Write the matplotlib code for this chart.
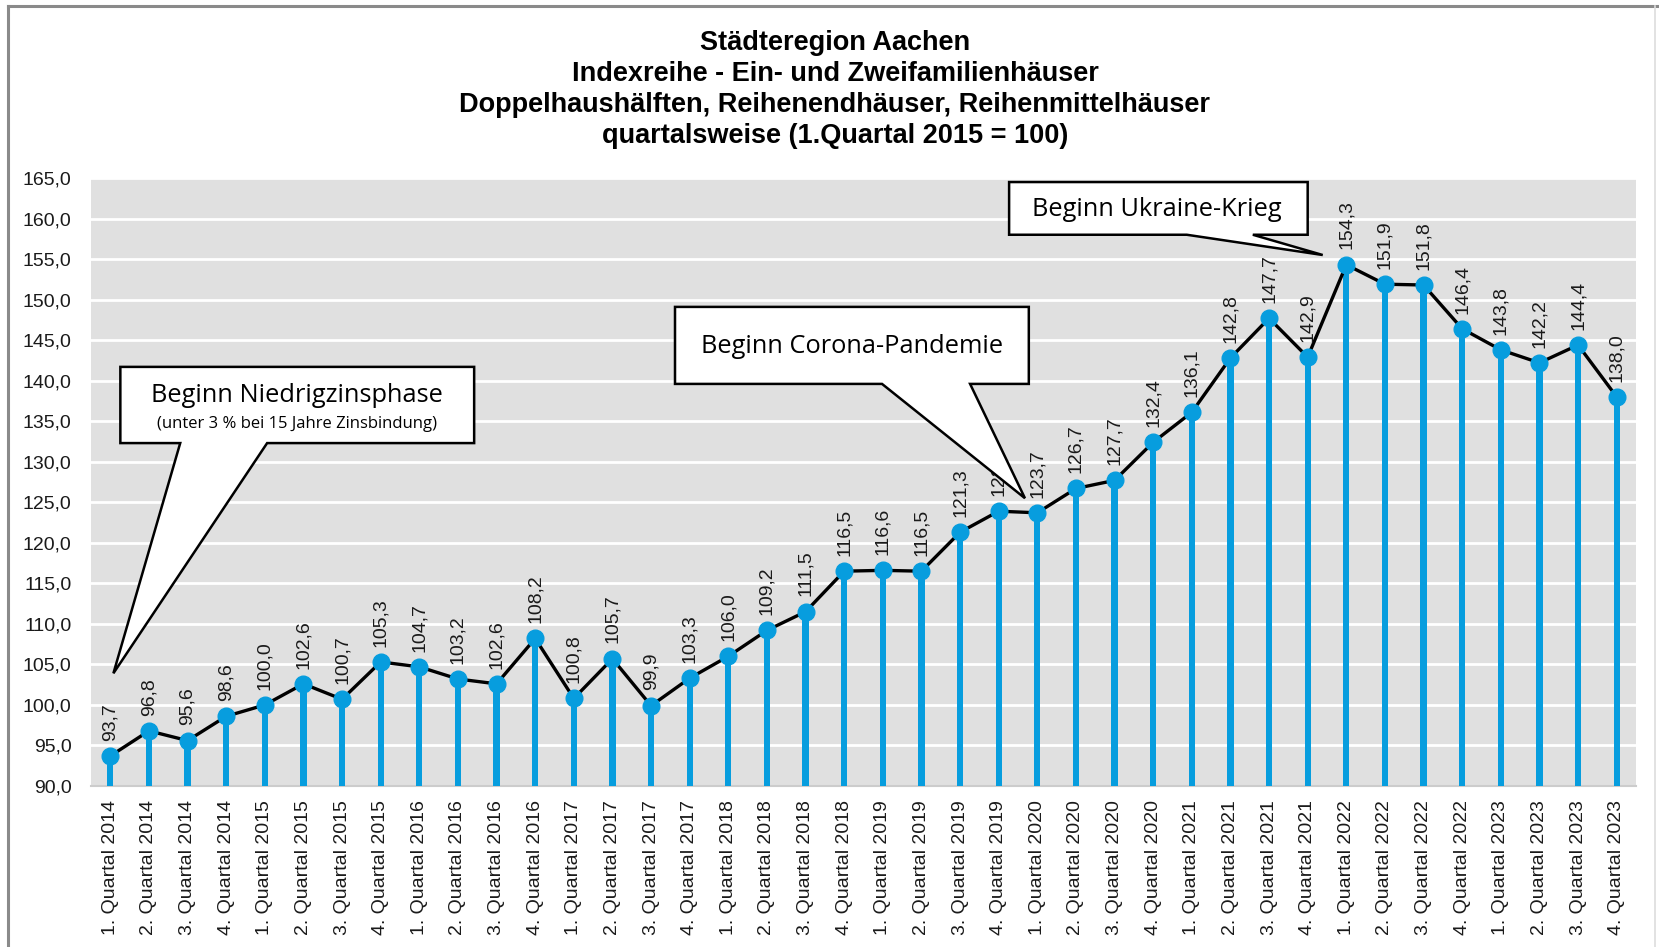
import numpy as np
import matplotlib
matplotlib.use("Agg")
import matplotlib.pyplot as plt
from matplotlib.patches import Polygon
from matplotlib.lines import Line2D

# data
years = [2014, 2015, 2016, 2017, 2018, 2019, 2020, 2021, 2022, 2023]
quarters = [1, 2, 3, 4]
labels = ["%d. Quartal %d" % (q, y) for y in years for q in quarters]
values = [93.7, 96.8, 95.6, 98.6, 100.0, 102.6, 100.7, 105.3,
          104.7, 103.2, 102.6, 108.2, 100.8, 105.7, 99.9, 103.3,
          106.0, 109.2, 111.5, 116.5, 116.6, 116.5, 121.3, 123.9,
          123.7, 126.7, 127.7, 132.4, 136.1, 142.8, 147.7, 142.9,
          154.3, 151.9, 151.8, 146.4, 143.8, 142.2, 144.4, 138.0]
yticks = np.arange(90, 166, 5)

title = ("Städteregion Aachen\n"
         "Indexreihe - Ein- und Zweifamilienhäuser\n"
         "Doppelhaushälften, Reihenendhäuser, Reihenmittelhäuser\n"
         "quartalsweise (1.Quartal 2015 = 100)")

BLUE = "#079dde"
SANS = ["Liberation Sans", "DejaVu Sans"]
CALLOUT_FONT = ["Open Sans", "DejaVu Sans"]

fig = plt.figure(figsize=(16.59, 9.47), dpi=100)
ax = fig.add_axes([0.05485, 0.17001, 0.93128, 0.64203])

x = np.arange(len(values))
ax.set_facecolor("#e0e0e0")
ax.bar(x, values, width=0.16, color=BLUE, zorder=3)
ax.plot(x, values, color="black", lw=2.4, zorder=4)
ax.plot(x, values, "o", color=BLUE, ms=12, zorder=5)

for xi, v in zip(x, values):
    ax.annotate(("%.1f" % v).replace(".", ","), (xi, v), xytext=(0, 11),
                textcoords="offset points", rotation=90, ha="center",
                va="bottom", fontsize=14, family=SANS, color="#1a1a1a",
                zorder=6)

ax.set_xlim(-0.5, len(values) - 0.5)
ax.set_ylim(90, 165)
ax.set_yticks(yticks)
ax.set_yticklabels([("%.1f" % t).replace(".", ",") for t in yticks],
                   fontsize=14, family=SANS, color="#1a1a1a")
ax.set_xticks(x)
ax.set_xticklabels(labels, rotation=90, fontsize=14, family=SANS,
                   color="#1a1a1a")
ax.tick_params(length=0)
ax.tick_params(axis="y", pad=14)
ax.tick_params(axis="x", pad=10)
ax.grid(axis="y", color="white", lw=2, zorder=1)
ax.set_axisbelow(True)
for s in ["top", "right", "left"]:
    ax.spines[s].set_visible(False)
ax.spines["bottom"].set_color("#cccccc")
ax.spines["bottom"].set_linewidth(1.5)

fig.text(0.5033, 0.968, title, ha="center", va="top", fontsize=19.5,
         fontweight="bold", family=SANS, linespacing=1.25)


def callout(left, right, top, bottom, base1, base2, tip):
    pts = [(left, top), (right, top), (right, bottom), (base2, bottom),
           tip, (base1, bottom), (left, bottom)]
    poly = Polygon(pts, closed=True, facecolor="white", edgecolor="black",
                   lw=1.8, zorder=8, clip_on=False, joinstyle="miter")
    ax.add_patch(poly)


# Niedrigzinsphase
callout(0.26, 9.42, 141.7, 132.3, 1.81, 4.06, (0.08, 103.9))
ax.text(4.84, 138.2, "Beginn Niedrigzinsphase", ha="center", va="center",
        fontsize=18.3, family=CALLOUT_FONT, zorder=9)
ax.text(4.84, 134.7, "(unter 3 % bei 15 Jahre Zinsbindung)", ha="center",
        va="center", fontsize=12, family=CALLOUT_FONT, zorder=9)

# Corona
callout(14.62, 23.78, 149.1, 139.6, 19.98, 22.26, (23.68, 125.5))
ax.text(19.2, 144.2, "Beginn Corona-Pandemie", ha="center", va="center",
        fontsize=18.3, family=CALLOUT_FONT, zorder=9)

# Ukraine
callout(23.27, 31.0, 164.5, 158.0, 27.87, 29.58, (31.39, 155.5))
ax.text(27.1, 161.1, "Beginn Ukraine-Krieg", ha="center", va="center",
        fontsize=18.3, family=CALLOUT_FONT, zorder=9)

# outer frame
fig.add_artist(Line2D([8 / 1659, 1], [1 - 6 / 947, 1 - 6 / 947],
                      color="#8a8a8a", lw=2.2))
fig.add_artist(Line2D([8 / 1659, 8 / 1659], [0, 1 - 6 / 947],
                      color="#8a8a8a", lw=2.2))
fig.add_artist(Line2D([1655 / 1659, 1655 / 1659], [0, 1 - 6 / 947],
                      color="#dddddd", lw=1.2))

fig.savefig("out.png", dpi=100)
